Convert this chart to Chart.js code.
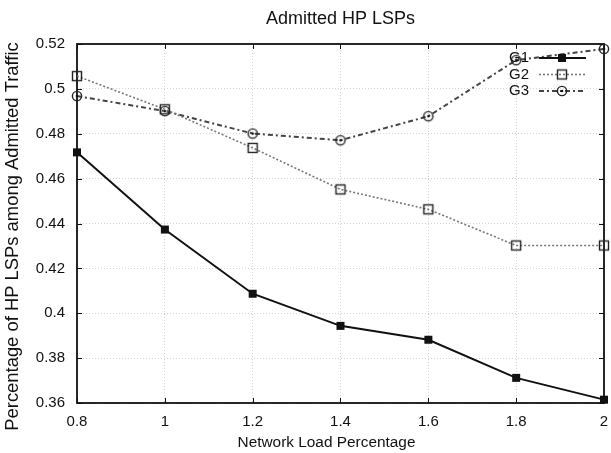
<!DOCTYPE html>
<html>
<head>
<meta charset="utf-8">
<title>Admitted HP LSPs</title>
<script src="https://cdn.jsdelivr.net/npm/chart.js@4.4.1/dist/chart.umd.min.js"></script>
<style>
  html, body { margin: 0; padding: 0; background: #fff; }
  #graph { display: block; }
</style>
</head>
<body>
<canvas id="graph" width="611" height="453"></canvas>
<script>
// network load (x) and share of admitted HP LSPs per group (y)
const loadPct = [0.8, 1.0, 1.2, 1.4, 1.6, 1.8, 2.0];
const g1 = [0.4717, 0.4373, 0.4087, 0.3944, 0.3882, 0.3712, 0.3615];
const g2 = [0.5057, 0.4909, 0.4737, 0.4552, 0.4463, 0.4302, 0.4302];
const g3 = [0.4968, 0.4901, 0.4801, 0.4771, 0.4878, 0.5128, 0.5178];
const seriesNames = ['G1', 'G2', 'G3'];
const xTicks = [0.8, 1, 1.2, 1.4, 1.6, 1.8, 2];
const yTicks = [0.36, 0.38, 0.4, 0.42, 0.44, 0.46, 0.48, 0.5, 0.52];

const FONT = "'Liberation Sans', Arial, Helvetica, sans-serif";

// small canvases used as point markers (gnuplot-like)
function makeMarker(kind) {
    const c = document.createElement('canvas');
    c.width = 14; c.height = 14;
    const g = c.getContext('2d');
    g.strokeStyle = '#222';
    g.fillStyle = '#111';
    g.lineWidth = 1.4;
    if (kind === 'filled') {
        g.fillRect(3, 3, 8, 8);
    } else if (kind === 'box') {
        g.strokeRect(2.5, 2.5, 9, 9);
    } else {
        g.beginPath();
        g.arc(7, 7, 4.6, 0, Math.PI * 2);
        g.stroke();
        g.beginPath();
        g.arc(7, 7, 1.3, 0, Math.PI * 2);
        g.fill();
    }
    return c;
}
const markers = [makeMarker('filled'), makeMarker('box'), makeMarker('circle')];

const lineStyles = [
    { color: '#111', width: 2, dash: [] },
    { color: '#777', width: 1.6, dash: [2, 2] },
    { color: '#444', width: 2, dash: [5, 3, 2, 3] }
];

function toPoints(ys) {
    return ys.map((y, i) => ({ x: loadPct[i], y: y }));
}

const datasets = [g1, g2, g3].map((ys, i) => ({
    label: seriesNames[i],
    data: toPoints(ys),
    borderColor: lineStyles[i].color,
    borderWidth: lineStyles[i].width,
    borderDash: lineStyles[i].dash,
    pointStyle: markers[i],
    pointRadius: 5,
    tension: 0,
    fill: false,
    clip: false
}));

// frame with inward ticks, like the gnuplot border
const framePlugin = {
    id: 'frame',
    beforeDatasetsDraw(chart) {
        const { ctx, chartArea: a, scales } = chart;
        ctx.save();
        ctx.strokeStyle = '#111';
        ctx.lineWidth = 1;
        ctx.beginPath();
        xTicks.forEach(v => {
            const x = Math.round(scales.x.getPixelForValue(v)) + 0.5;
            ctx.moveTo(x, a.bottom); ctx.lineTo(x, a.bottom - 5);
            ctx.moveTo(x, a.top); ctx.lineTo(x, a.top + 5);
        });
        yTicks.forEach(v => {
            const y = Math.round(scales.y.getPixelForValue(v)) + 0.5;
            ctx.moveTo(a.left, y); ctx.lineTo(a.left + 5, y);
            ctx.moveTo(a.right, y); ctx.lineTo(a.right - 5, y);
        });
        ctx.stroke();
        ctx.lineWidth = 1.8;
        ctx.strokeRect(a.left, a.top, a.right - a.left, a.bottom - a.top);
        ctx.restore();
    },
    afterDatasetsDraw(chart) {
        // key in the upper right corner
        const { ctx, chartArea: a } = chart;
        ctx.save();
        ctx.font = '15px ' + FONT;
        ctx.textAlign = 'right';
        ctx.textBaseline = 'middle';
        ctx.fillStyle = '#111';
        datasets.forEach((ds, i) => {
            const y = a.top + 14 + i * 16.5;
            ctx.fillText(ds.label, a.right - 75, y);
            ctx.strokeStyle = ds.borderColor;
            ctx.lineWidth = ds.borderWidth;
            ctx.setLineDash(ds.borderDash);
            ctx.beginPath();
            ctx.moveTo(a.right - 65, y);
            ctx.lineTo(a.right - 18, y);
            ctx.stroke();
            ctx.drawImage(markers[i], a.right - 42 - 7, y - 7);
        });
        ctx.restore();

        // axis titles
        ctx.save();
        ctx.fillStyle = '#111';
        ctx.textAlign = 'center';
        ctx.textBaseline = 'middle';
        ctx.font = '15.4px ' + FONT;
        ctx.fillText('Network Load Percentage', (a.left + a.right) / 2 - 14, 443);
        ctx.translate(13, (a.top + a.bottom) / 2 + 13);
        ctx.rotate(-Math.PI / 2);
        ctx.font = '18.4px ' + FONT;
        ctx.fillText('Percentage of HP LSPs among Admitted Traffic', 0, 0);
        ctx.restore();
    }
};

new Chart(document.getElementById('graph').getContext('2d'), {
    type: 'line',
    data: { datasets: datasets },
    options: {
        responsive: false,
        animation: false,
        devicePixelRatio: 1,
        layout: { padding: { left: 0, right: 3, top: 0, bottom: 0 } },
        plugins: {
            legend: { display: false },
            tooltip: { enabled: false },
            title: {
                display: true,
                text: 'Admitted HP LSPs',
                fullSize: false,
                color: '#111',
                font: { family: FONT, size: 18, weight: 'normal' },
                padding: { top: 8.5, bottom: 13.9 }
            }
        },
        scales: {
            x: {
                type: 'linear',
                min: 0.8,
                max: 2,
                afterBuildTicks: s => { s.ticks = xTicks.map(v => ({ value: v })); },
                afterFit: s => { s.height = 50; s.paddingLeft = 0; s.paddingRight = 0; },
                grid: { color: '#d4d4d4', lineWidth: 1, drawTicks: false },
                border: { display: false, dash: [1, 2] },
                ticks: {
                    padding: 10,
                    color: '#111',
                    font: { family: FONT, size: 15 },
                    maxRotation: 0,
                    callback: v => String(+v.toFixed(2))
                }
            },
            y: {
                type: 'linear',
                min: 0.36,
                max: 0.52,
                afterBuildTicks: s => { s.ticks = yTicks.map(v => ({ value: v })); },
                afterFit: s => { s.width = 77; s.paddingTop = 0; s.paddingBottom = 0; },
                grid: { color: '#d4d4d4', lineWidth: 1, drawTicks: false },
                border: { display: false, dash: [1, 2] },
                ticks: {
                    padding: 12,
                    color: '#111',
                    font: { family: FONT, size: 15 },
                    callback: v => String(+v.toFixed(2))
                }
            }
        }
    },
    plugins: [framePlugin]
});
</script>
</body>
</html>
